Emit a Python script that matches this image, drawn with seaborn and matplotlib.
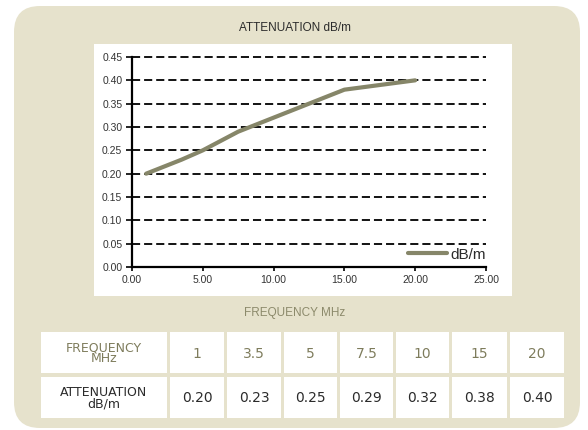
import matplotlib
matplotlib.use("Agg")
import matplotlib.pyplot as plt
from matplotlib.patches import FancyBboxPatch, Rectangle
import pandas as pd
import seaborn as sns

frequency_mhz = [1, 3.5, 5, 7.5, 10, 15, 20]
attenuation_db = [0.20, 0.23, 0.25, 0.29, 0.32, 0.38, 0.40]
freq_labels = ["1", "3.5", "5", "7.5", "10", "15", "20"]
att_labels = ["0.20", "0.23", "0.25", "0.29", "0.32", "0.38", "0.40"]

# Colours
panel_color = "#E6E2CC"
line_color = "#868669"
olive_text = "#7E7C5C"
dark_text = "#2B2B2B"

sns.set_theme(style="white")
plt.rcParams["font.family"] = ["Liberation Sans Narrow", "Liberation Sans", "DejaVu Sans"]

df = pd.DataFrame({"Frequency": frequency_mhz, "dB/m": attenuation_db})

fig = plt.figure(figsize=(5.88, 4.30), dpi=100)
fig.patch.set_facecolor("white")

# -----------------------------
# Background layer in pixel coords
# -----------------------------
bg = fig.add_axes([0, 0, 1, 1], zorder=0)
bg.set_xlim(0, 588)
bg.set_ylim(430, 0)
bg.axis("off")

bg.add_patch(FancyBboxPatch(
    (14, 6), 566, 422,
    boxstyle="round,pad=0,rounding_size=26",
    facecolor=panel_color, edgecolor="none"
))
bg.add_patch(Rectangle((94, 44), 418, 252, facecolor="white", edgecolor="none"))

bg.text(295, 28, "ATTENUATION dB/m", ha="center", va="center",
        fontsize=8.5, color=dark_text, family=["Liberation Sans", "DejaVu Sans"])
bg.text(295, 313, "FREQUENCY MHz", ha="center", va="center",
        fontsize=8.5, color="#8C8A6B", family=["Liberation Sans", "DejaVu Sans"])

# -----------------------------
# Table
# -----------------------------
col_x = [41, 170, 227, 284, 340, 396, 452, 510]
col_w = [126, 54, 54, 53, 53, 53, 55, 54]
row_y = [332, 377]
row_h = 41
table_font = ["DejaVu Sans"]

rows = [
    ("FREQUENCY\nMHz", freq_labels, olive_text),
    ("ATTENUATION\ndB/m", att_labels, dark_text),
]
for (head, vals, color), y in zip(rows, row_y):
    cells = [head] + vals
    for i, txt in enumerate(cells):
        bg.add_patch(Rectangle((col_x[i], y), col_w[i], row_h,
                               facecolor="white", edgecolor="none"))
        bg.text(col_x[i] + col_w[i] / 2, y + row_h / 2 + 1, txt,
                ha="center", va="center", color=color,
                fontsize=9 if i == 0 else 10, linespacing=0.8,
                family=table_font)

# -----------------------------
# Line chart
# -----------------------------
ax = fig.add_axes([132 / 588, 163 / 430, 354 / 588, 210 / 430], zorder=2)
ax.patch.set_alpha(0)

sns.lineplot(data=df, x="Frequency", y="dB/m", ax=ax,
             color=line_color, linewidth=3, label="dB/m")

ax.set_xlim(0, 25)
ax.set_ylim(0, 0.45)
ax.set_xticks([0, 5, 10, 15, 20, 25])
ax.set_xticklabels([f"{v:.2f}" for v in [0, 5, 10, 15, 20, 25]])
ax.set_yticks([i * 0.05 for i in range(10)])
ax.set_yticklabels([f"{i * 0.05:.2f}" for i in range(10)])
ax.set_xlabel("")
ax.set_ylabel("")

for y in ax.get_yticks()[1:]:
    ax.axhline(y, color="black", linewidth=1.3, linestyle=(0, (4.5, 2.2)),
               zorder=1, clip_on=False)

for side in ["top", "right"]:
    ax.spines[side].set_visible(False)
for side in ["left", "bottom"]:
    ax.spines[side].set_color("black")
    ax.spines[side].set_linewidth(1.6)

ax.tick_params(axis="both", labelsize=7.5, colors="#333333", pad=3)
ax.tick_params(axis="y", left=True, length=4, width=1.2, color="black")
ax.tick_params(axis="x", bottom=True, length=3, width=1.2, color="black")

leg = ax.legend(loc="lower right", bbox_to_anchor=(1.0, 0.025), frameon=False,
                fontsize=11, handlelength=2.6, handletextpad=0.2,
                borderpad=0, borderaxespad=0)
for t in leg.get_texts():
    t.set_color(dark_text)

fig.savefig("out.png", dpi=100, facecolor="white")
